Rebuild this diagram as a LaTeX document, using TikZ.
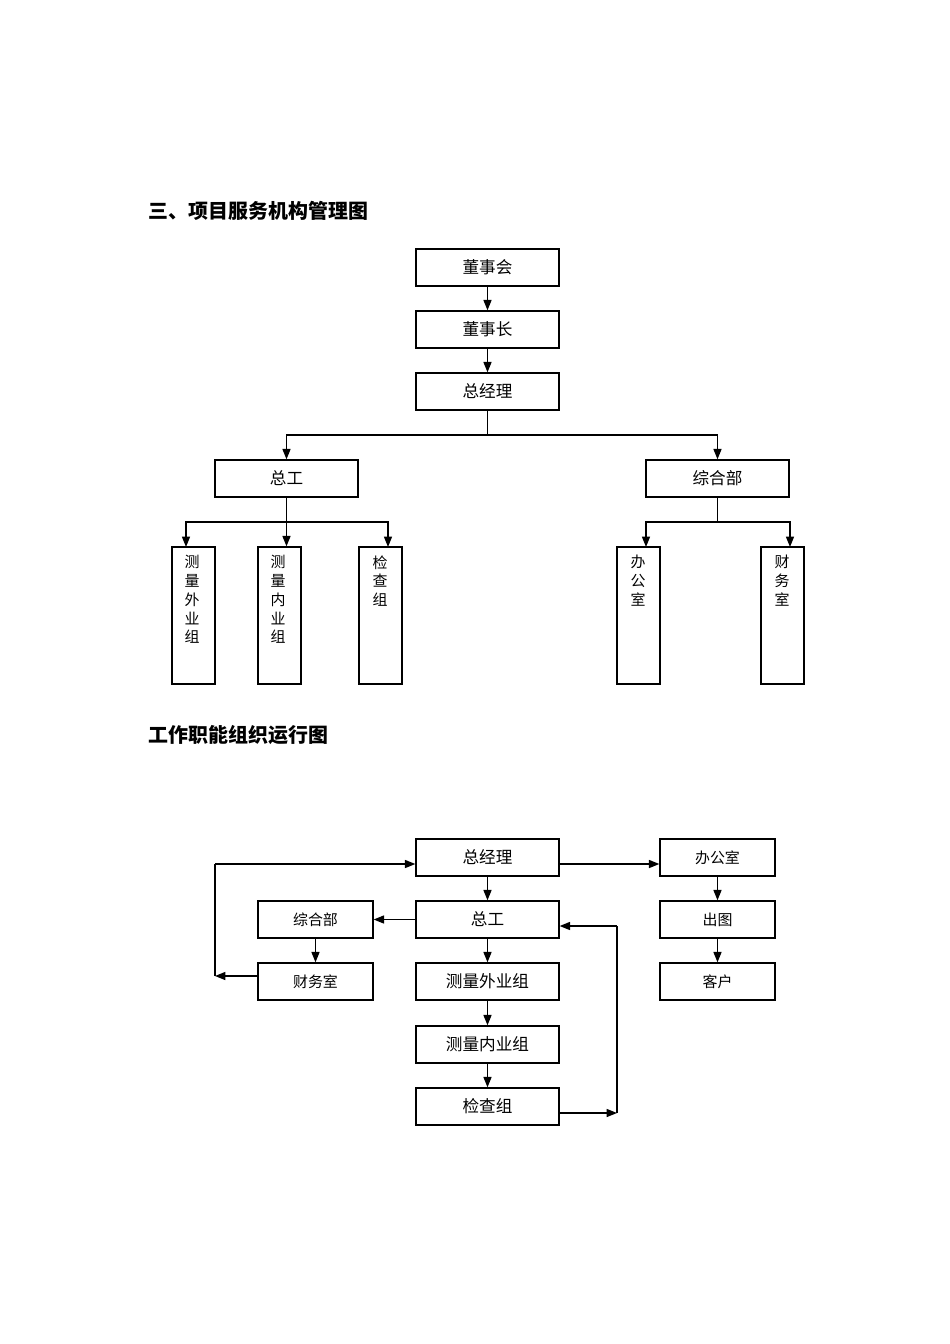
\documentclass[tikz,border=0pt]{standalone}
\usepackage{fontspec}
\setmainfont{Liberation Serif}
\newfontfamily\cjk{Noto Sans CJK SC}
\usetikzlibrary{arrows.meta}

\begin{document}
\begin{tikzpicture}
[x=0.02116cm,y=-0.02116cm,
 box/.style={draw,thick,minimum width=3.026cm,minimum height=0.783cm,inner sep=0pt,font=\cjk\fontsize{10}{12}\selectfont},
 sbox/.style={box,minimum width=2.433cm,font=\cjk\fontsize{9}{11}\selectfont},
 vbox/.style={draw,thick,minimum width=0.91cm,minimum height=2.9cm,inner sep=0pt},
 vtext/.style={anchor=north,align=center,inner sep=0pt,font=\cjk\fontsize{9}{11.3}\selectfont},
 title/.style={anchor=west,font=\cjk\bfseries\fontsize{12}{14}\selectfont},
 arr/.style={-{Triangle[length=2.2mm,width=1.7mm]},thick}]
\useasboundingbox (0,0) rectangle (950,1344);
% titles
\node[title] (t1) at (143,211) {三、项目服务机构管理图};
\node[title] (t2) at (143,735) {工作职能组织运行图};
% management chart
\node[box] (dsh) at (487.5,267.5) {董事会};
\node[box] (dsz) at (487.5,329.5) {董事长};
\node[box] (zjl) at (487.5,391.5) {总经理};
\node[box] (zg) at (286.5,478.5) {总工};
\node[box] (zhb) at (717.5,478.5) {综合部};
\node[vbox] (wy) at (193.5,615.5) {};
\node[vbox] (ny) at (279.5,615.5) {};
\node[vbox] (jc) at (380.5,615.5) {};
\node[vbox] (bgs) at (638.5,615.5) {};
\node[vbox] (cws) at (782.5,615.5) {};
\node[vtext] at (192,555) {测\\量\\外\\业\\组};
\node[vtext] at (278,555) {测\\量\\内\\业\\组};
\node[vtext] at (380,555) {检\\查\\组};
\node[vtext] at (638,555) {办\\公\\室};
\node[vtext] at (782,555) {财\\务\\室};
\coordinate (j1) at (487.5,435);
\coordinate (j2) at (286.5,522);
\coordinate (j3) at (717.5,522);
\draw[arr] (dsh) -- (dsz);
\draw[arr] (dsz) -- (zjl);
\draw[thick] (zjl) -- (j1);
\draw[arr] (j1) -| (zg);
\draw[arr] (j1) -| (zhb);
\draw[thick] (zg) -- (j2);
\draw[arr] (j2) -| (186,547);
\draw[arr] (j2) -- (ny.north -| j2);
\draw[arr] (j2) -| (388,547);
\draw[thick] (zhb) -- (j3);
\draw[arr] (j3) -| (646,547);
\draw[arr] (j3) -| (790,547);
% operation chart
\node[box] (zjl2) at (487.5,857.5) {总经理};
\node[box] (zg2) at (487.5,919.5) {总工};
\node[box] (wy2) at (487.5,981.5) {测量外业组};
\node[box] (ny2) at (487.5,1044.5) {测量内业组};
\node[box] (jc2) at (487.5,1106.5) {检查组};
\node[sbox] (zhb2) at (315.5,919.5) {综合部};
\node[sbox] (cws2) at (315.5,981.5) {财务室};
\node[sbox] (bgs2) at (717.5,857.5) {办公室};
\node[sbox] (ct) at (717.5,919.5) {出图};
\node[sbox] (kh) at (717.5,981.5) {客户};
\coordinate (l1) at (215,976);
\coordinate (l2) at (215,864);
\coordinate (r1) at (617,1113);
\coordinate (r2) at (617,926);
\draw[arr] (zjl2) -- (zg2);
\draw[arr] (zg2) -- (wy2);
\draw[arr] (wy2) -- (ny2);
\draw[arr] (ny2) -- (jc2);
\draw[arr] (zg2) -- (zhb2);
\draw[arr] (zhb2) -- (cws2);
\draw[arr] (cws2.west |- l1) -- (l1);
\draw[thick] (l1) -- (l2);
\draw[arr] (l2) -- (zjl2.west |- l2);
\draw[arr] (zjl2.east |- l2) -- (bgs2.west |- l2);
\draw[arr] (bgs2) -- (ct);
\draw[arr] (ct) -- (kh);
\draw[arr] (jc2.east |- r1) -- (r1);
\draw[thick] (r1) -- (r2);
\draw[arr] (r2) -- (zg2.east |- r2);
\end{tikzpicture}
\end{document}
